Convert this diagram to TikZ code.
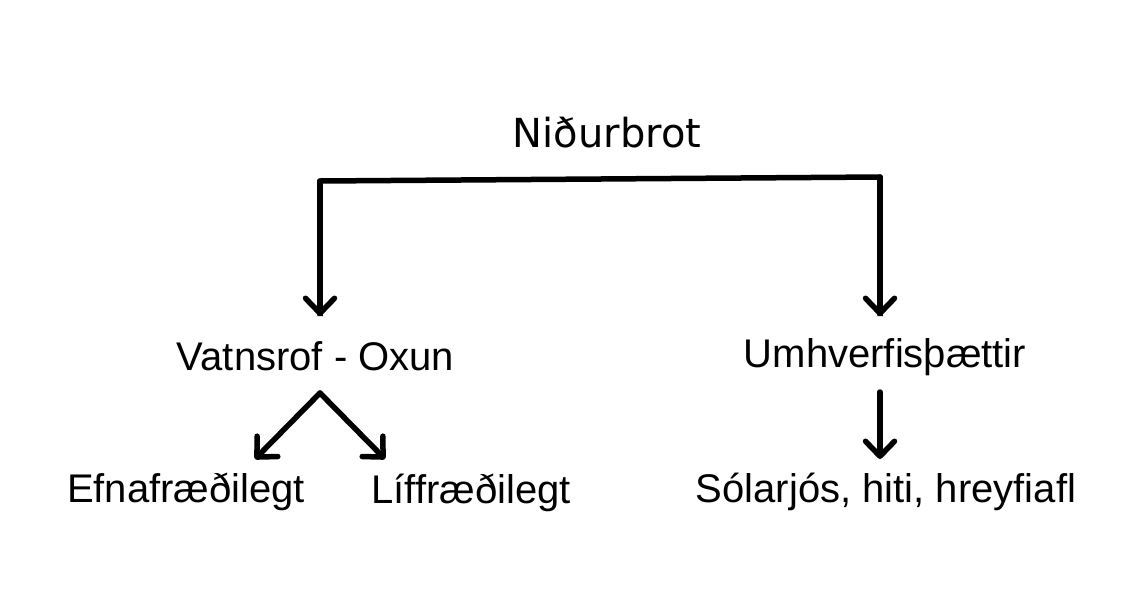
\documentclass[tikz,border=0pt]{standalone}
\usepackage{fontspec}
\setmainfont{Liberation Sans}
\newfontfamily\dejavu{DejaVu Sans}
\usetikzlibrary{arrows.meta}
\tikzset{
	label/.style={anchor=base, inner sep=0pt, font=\fontsize{40}{48}\selectfont},
	branch/.style={line width=5.5pt, line join=round, line cap=round, -{Straight Barb[length=15pt,width=29pt,round]}}
}

\begin{document}
\begin{tikzpicture}[x=1pt, y=-1pt]
		%%%%% START %%%%%
		\useasboundingbox (0, 0) rectangle (1123, 606);
		
		\node[label, font=\dejavu\fontsize{40}{48}\selectfont] (nidurbrot) at (607, 147) {Niðurbrot};
		
		\node[label] (vatnsrof) at (315.5, 370) {Vatnsrof - Oxun};
		\node[label] (umhverfi) at (885, 367) {Umhverfisþættir};
		
		\node[label] (efna) at (186, 502) {Efnafræðilegt};
		\node[label] (liff) at (471, 503) {Líffræðilegt};
		\node[label] (solar) at (886, 502) {Sólarjós, hiti, hreyfiafl};
		
		\coordinate (lcorner) at (320, 181);
		\coordinate (rcorner) at (880, 177);
		\coordinate (vatnstop) at (320, 316);
		\coordinate (umhvtop) at (880, 316);
		\coordinate (split) at (320, 393);
		\coordinate (efnatop) at (255, 459);
		\coordinate (lifftop) at (385, 459);
		\coordinate (umhvbot) at (880, 392);
		\coordinate (solartop) at (880, 459);
		
		\draw[line width=5.5pt, line join=round] (vatnstop) -- (lcorner) -- (rcorner) -- (umhvtop);
		\draw[branch] (lcorner) -- (vatnstop);
		\draw[branch] (rcorner) -- (umhvtop);
		
		\draw[branch] (split) -- (efnatop);
		\draw[branch] (split) -- (lifftop);
		
		\draw[branch] (umhvbot) -- (solartop);
		%%%%% END %%%%%
\end{tikzpicture}
\end{document}
